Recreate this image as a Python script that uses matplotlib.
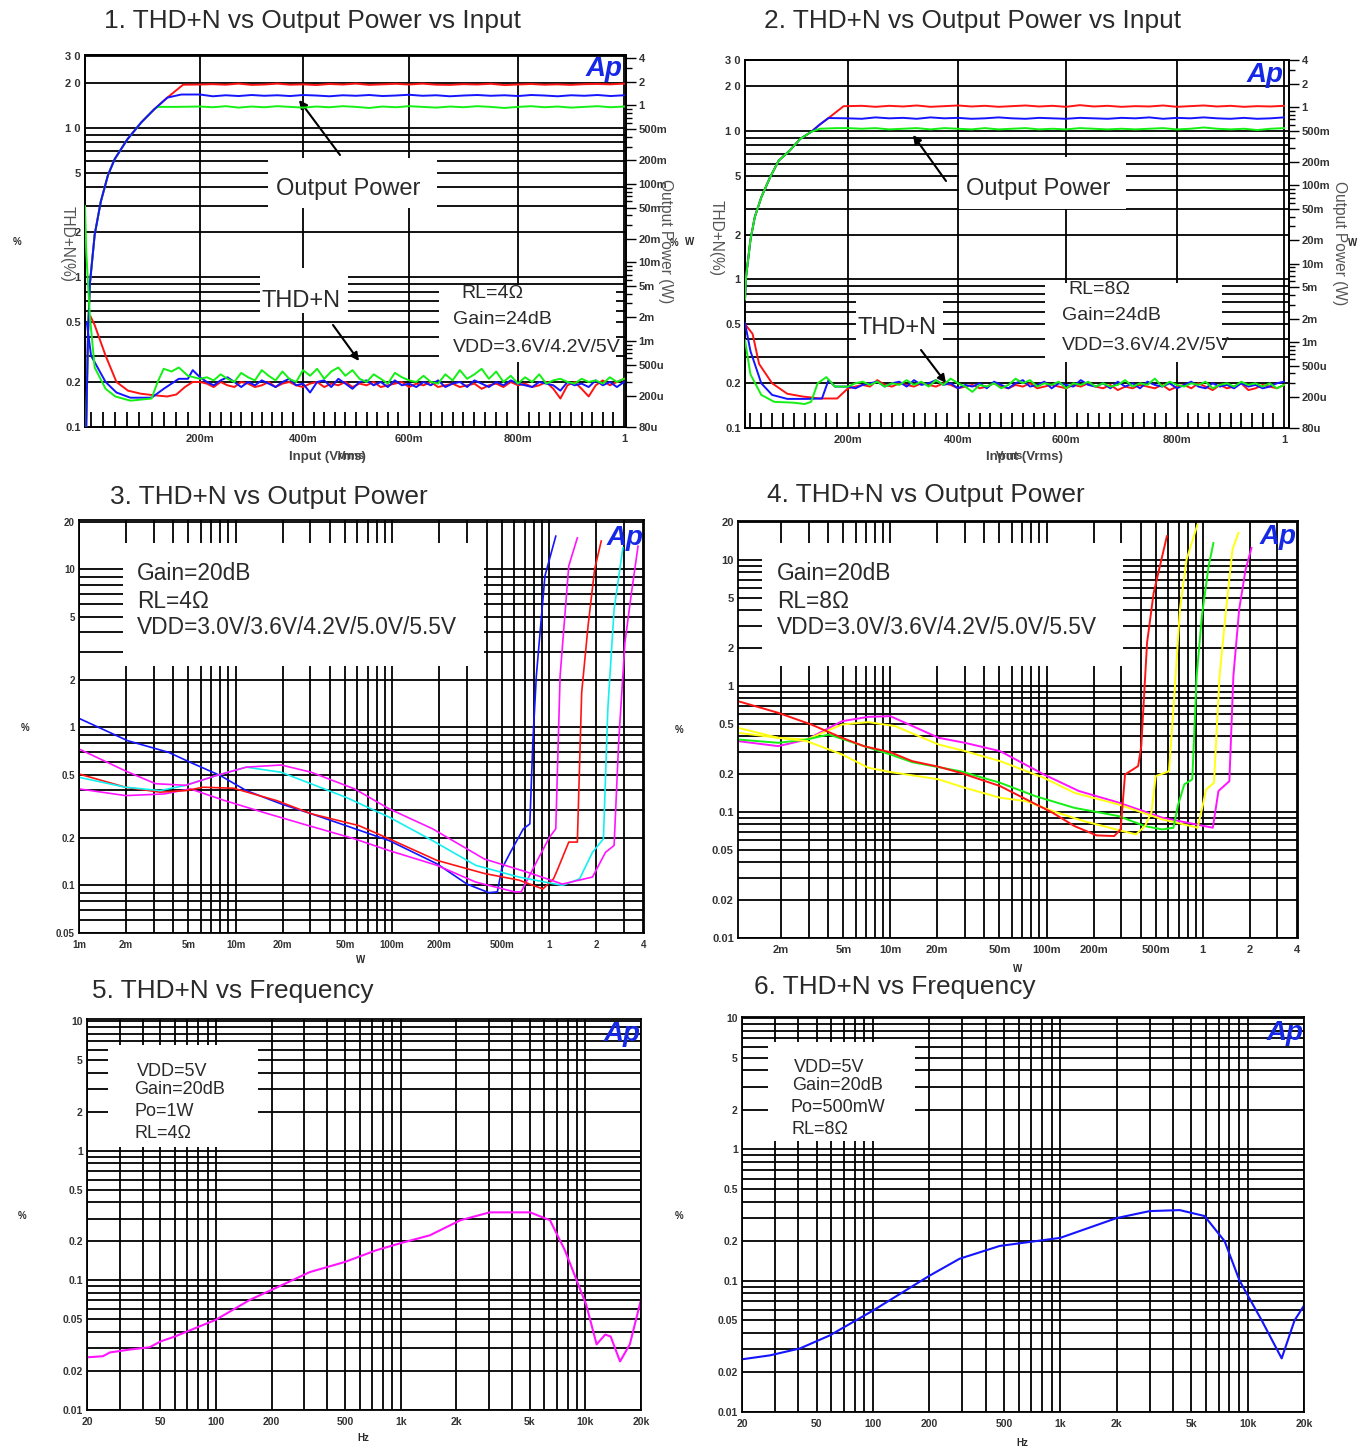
import numpy as np
import matplotlib
matplotlib.use('Agg')
import matplotlib.pyplot as plt
from matplotlib.patches import Rectangle

W_PX, H_PX = 1367, 1448
RED, BLUE, GREEN = '#ff1414', '#1414ff', '#14f014'
CYAN, MAGENTA, YELLOW = '#14f0f0', '#ff14ff', '#ffff14'
SANS = ['Liberation Sans', 'DejaVu Sans']
plt.rcParams['font.family'] = SANS

# ---------- panel 1 ----------
P1_RISE_V = [.012, .015, .018, .026, .036, .048, .059, .08, .103, .124]
P1_RISE_P = [8.1e-5, .00123, .00527, .0226, .0592, .13, .207, .371, .609, .889]
P1_RED_V, P1_RED_P = [.146, .172], [1.26, 1.84]
P1_BLUE_V, P1_BLUE_P = [.146, .169], [1.26, 1.38]
P1_GREEN_V, P1_GREEN_P = [.13, .16], [.96, .96]
P1_RED_PLAT = [1.85,1.87,1.84,1.9,1.83,1.85,1.9,1.84,1.86,1.82,1.88,1.85,1.9,1.83,1.86,1.89,1.85,1.9,1.84,1.83,1.87,1.85,1.89,1.82,1.85,1.88,1.84,1.86,1.83,1.87,1.88,1.86,1.9]
P1_BLUE_PLAT = [1.38,1.31,1.35,1.32,1.36,1.33,1.35,1.32,1.36,1.34,1.31,1.35,1.33,1.36,1.32,1.34,1.37,1.33,1.35,1.31,1.34,1.36,1.33,1.35,1.32,1.36,1.34,1.31,1.35,1.33,1.36,1.32,1.35]
P1_GREEN_PLAT = [.97,.95,.98,.94,.97,.95,.98,.96,.94,.97,.95,.98,.96,.93,.97,.95,.98,.96,.94,.97,.95,.98,.96,.93,.96,.98,.95,.97,.94,.96,.98,.95,.97]
T1_RED_V = [.019, .026, .044, .062, .081, .102, .124, .146, .161, .175, .188]
T1_RED = [.55, .48, .3, .2, .175, .167, .163, .16, .165, .185, .2]
T1_BLUE_V = [.013, .02, .044, .062, .085, .12, .14, .165, .18, .188]
T1_BLUE = [.5, .3, .2, .17, .157, .157, .18, .21, .21, .24]
T1_GREEN_V = [.01, .012, .018, .026, .044, .06, .085, .12, .13, .14, .153, .165, .18]
T1_GREEN = [3, 1.5, .55, .25, .18, .16, .15, .155, .2, .245, .235, .25, .22]
T1_RED_NOISE = [.2,.195,.185,.2,.19,.185,.2,.195,.185,.19,.2,.185,.195,.2,.19,.185,.195,.2,.185,.195,.19,.2,.185,.195,.19,.2,.185,.19,.195,.2,.185,.195,.19,.2,.185,.19,.195,.185,.19,.195,.18,.19,.195,.185,.2,.19,.195,.185,.19,.2,.18,.155,.19,.2,.18,.16,.19,.205,.19,.2,.21]
T1_BLUE_NOISE = [.215,.2,.19,.205,.215,.2,.185,.2,.19,.205,.195,.185,.2,.21,.19,.195,.17,.2,.205,.185,.21,.195,.18,.2,.205,.19,.2,.185,.205,.19,.195,.185,.2,.19,.205,.185,.195,.2,.185,.205,.195,.185,.2,.19,.205,.195,.19,.185,.2,.195,.19,.175,.2,.19,.195,.185,.205,.19,.2,.185,.2]
T1_GREEN_NOISE = [.21,.215,.205,.225,.21,.2,.23,.215,.205,.24,.22,.205,.235,.21,.2,.24,.22,.245,.21,.235,.25,.22,.24,.21,.2,.225,.21,.195,.23,.215,.205,.2,.22,.2,.195,.225,.205,.24,.21,.225,.245,.21,.235,.2,.22,.195,.215,.2,.225,.195,.205,.21,.2,.195,.21,.2,.205,.195,.215,.2,.21]

# ---------- panel 2 ----------
P2_RISE_V = [.01, .012, .02, .028, .04, .056, .072, .092, .112, .132]
P2_RISE_P = [.0035, .00684, .0201, .0394, .0705, .126, .207, .277, .394, .483]
P2_RED_V, P2_RED_P = [.148, .164, .192], [.6, .726, 1.03]
P2_BLUE_V, P2_BLUE_P = [.148, .164], [.6, .726]
P2_GREEN_V, P2_GREEN_P = [.148, .18], [.53, .54]
P2_RED_PLAT = [1.03,1.04,1.01,1.04,1.02,1.05,1.01,1.03,1.05,1.02,1.04,1.01,1.03,1.05,1.02,1.04,1.01,1.06,1.02,1.04,1.01,1.03,1.02,1.05,1.01,1.03,1.05,1.02,1.04,1.01,1.03,1.02,1.04]
P2_BLUE_PLAT = [.72,.71,.74,.72,.73,.71,.74,.72,.73,.71,.72,.74,.72,.71,.73,.72,.71,.73,.72,.71,.73,.72,.74,.71,.73,.72,.74,.72,.71,.73,.71,.72,.74]
P2_GREEN_PLAT = [.54,.53,.54,.52,.53,.54,.52,.54,.53,.52,.54,.52,.53,.54,.52,.53,.52,.54,.53,.52,.53,.52,.53,.54,.52,.53,.55,.53,.52,.53,.51,.53,.54]
T2_RED_V = [.012, .024, .036, .06, .088, .116, .148, .18]
T2_RED = [.49, .43, .27, .2, .17, .163, .158, .158]
T2_BLUE_V = [.01, .02, .04, .06, .088, .124, .152, .164, .176]
T2_BLUE = [.51, .33, .2, .167, .157, .157, .158, .21, .19]
T2_GREEN_V = [.01, .02, .04, .064, .1, .12, .132, .144, .16, .176]
T2_GREEN = [.39, .23, .167, .15, .148, .145, .15, .2, .22, .19]
T2_RED_NOISE = [.185,.19,.195,.19,.21,.195,.19,.2,.195,.19,.2,.195,.19,.2,.195,.185,.19,.195,.185,.19,.2,.19,.185,.195,.19,.2,.185,.19,.195,.19,.185,.195,.19,.2,.19,.185,.195,.18,.19,.185,.195,.19,.185,.195,.18,.19,.195,.185,.2,.19,.18,.195,.185,.19,.2,.18,.185,.195,.19,.185,.195]
T2_BLUE_NOISE = [.19,.185,.195,.2,.205,.19,.2,.205,.19,.21,.195,.2,.21,.195,.2,.185,.195,.19,.2,.185,.205,.195,.185,.2,.21,.19,.195,.205,.185,.2,.195,.19,.21,.195,.19,.2,.185,.205,.19,.2,.185,.205,.195,.19,.2,.185,.195,.205,.19,.185,.2,.19,.195,.185,.2,.19,.195,.185,.19,.2,.205]
T2_GREEN_NOISE = [.19,.2,.205,.195,.205,.19,.2,.195,.21,.195,.205,.19,.21,.195,.215,.2,.19,.175,.195,.19,.2,.185,.195,.215,.2,.21,.19,.2,.195,.205,.185,.2,.195,.205,.19,.2,.19,.195,.21,.19,.2,.195,.215,.19,.205,.195,.19,.2,.195,.205,.185,.195,.2,.19,.205,.195,.2,.19,.2,.185,.195]

# ---------- panel 3 ----------
S3_BLUE_X = [.001,.00204,.00373,.00513,.008,.0117,.0195,.0304,.0506,.0957,.193,.3,.413,.469,.5,.568,.687,.756,.79,.832,.944,1.107]
S3_BLUE_Y = [1.14,.824,.695,.601,.495,.398,.328,.284,.239,.192,.137,.102,.09,.091,.127,.162,.228,.245,.804,2.12,9.08,16.2]
S3_MAGB_X = [.001,.00198,.0035,.00513,.00853,.0161,.0268,.0575,.0957,.193,.341,.605,.665,.832,1.01,1.107,1.18,1.34,1.52]
S3_MAGB_Y = [.408,.37,.379,.408,.344,.284,.245,.197,.166,.134,.105,.091,.091,.14,.202,.228,2.12,10.5,15.8]
S3_RED_X = [.001,.00198,.00329,.00481,.0062,.00968,.0183,.0304,.0612,.0957,.193,.387,.645,.915,1.07,1.14,1.34,1.52,1.62,1.78,1.96,2.16]
S3_RED_Y = [.507,.418,.389,.398,.418,.412,.344,.284,.239,.197,.144,.119,.108,.095,.11,.127,.188,.188,1.66,4.39,10,15.1]
S3_CYAN_X = [.001,.00198,.00329,.00481,.00751,.0117,.0195,.0304,.0506,.0957,.181,.341,.645,1.22,1.57,1.9,2.23,2.38,2.61,2.97]
S3_CYAN_Y = [.483,.418,.398,.43,.495,.56,.52,.439,.361,.27,.192,.134,.113,.1,.11,.162,.197,1.31,5.59,13.7]
S3_MAGA_X = [.001,.00198,.00308,.00481,.00751,.0117,.0195,.0304,.0575,.0957,.181,.387,.733,1.22,1.9,2.3,2.61,2.79,3.06,3.37,3.71]
S3_MAGA_Y = [.73,.53,.44,.43,.495,.56,.578,.52,.408,.305,.228,.147,.121,.102,.113,.162,.179,.804,3.44,7.12,14]

# ---------- panel 4 ----------
S4_RED_X = [.00106,.00192,.00312,.00491,.00678,.01,.0138,.0204,.0281,.0504,.0743,.109,.151,.209,.271,.298,.318,.386,.404,.44,.485,.589]
S4_RED_Y = [.76,.614,.496,.389,.334,.299,.254,.229,.205,.161,.126,.099,.0774,.0653,.0645,.0728,.199,.232,.334,2.21,5.5,15.5]
S4_YELA_X = [.00106,.00192,.00292,.00491,.00724,.01,.0204,.03,.0504,.0743,.109,.172,.289,.374,.426,.469,.5,.608,.649,.714,.787,.925]
S4_YELA_Y = [.467,.389,.366,.287,.225,.208,.182,.156,.13,.122,.102,.085,.072,.0665,.0774,.099,.193,.211,.653,4.06,10.1,19.2]
S4_GRN_X = [.00106,.00192,.00292,.00404,.00678,.01,.0138,.0281,.0504,.0845,.151,.289,.426,.552,.649,.692,.762,.857,.914,.987,1.09,1.17]
S4_GRN_Y = [.377,.355,.377,.413,.334,.287,.249,.211,.171,.134,.108,.093,.0774,.0728,.0751,.112,.166,.182,1.2,3.6,8.96,13.7]
S4_YELB_X = [.00106,.00192,.00292,.00491,.00724,.0107,.0204,.03,.0504,.0962,.151,.289,.552,.84,.925,.987,1.05,1.18,1.28,1.41,1.55,1.69]
S4_YELB_Y = [.426,.389,.377,.496,.518,.482,.344,.305,.254,.187,.142,.115,.0875,.0774,.0751,.105,.151,.171,1.2,4.06,12.2,16.5]
S4_MAG_X = [.00106,.00192,.00292,.00491,.00724,.01,.0204,.03,.0504,.0962,.161,.289,.552,.84,1.16,1.26,1.48,1.57,1.71,1.88,2.05]
S4_MAG_Y = [.366,.334,.377,.527,.571,.578,.389,.355,.305,.199,.147,.119,.0902,.0813,.0751,.147,.176,1.2,4.06,8.43,12.5]

# ---------- panels 5, 6 ----------
F5 = [20,24.4,26.6,34.3,43.7,50,59.8,100,153,200,322,500,738,1000,1440,2100,3030,5020,6430,7740,10100,11500,12800,13700,15400,17400,20000]
T5 = [.0255,.026,.0278,.0293,.0305,.0338,.0369,.0498,.071,.0845,.116,.139,.171,.194,.223,.291,.335,.335,.291,.171,.0649,.0321,.0382,.0369,.0237,.0321,.071]
F6 = [20,28.2,40.8,58.8,100,200,290,475,1000,2000,3000,4340,5890,7540,9060,11900,15200,17800,20000]
T6 = [.0252,.027,.0305,.0383,.0592,.109,.147,.184,.212,.3,.339,.345,.311,.2,.1,.0498,.0256,.0498,.0647]

Y_LABELS = {30:'30',20:'20',10:'10',5:'5',2:'2',1:'1',.5:'0.5',.2:'0.2',.1:'0.1',.05:'0.05',.02:'0.02',.01:'0.01'}
Y_LABELS_SPACED = {**Y_LABELS, 30:'3 0', 20:'2 0', 10:'1 0'}
RIGHT_TICKS = [4,2,1,.5,.2,.1,.05,.02,.01,.005,.002,.001,.0005,.0002,.00008]
RIGHT_LABELS = ['4','2','1','500m','200m','100m','50m','20m','10m','5m','2m','1m','500u','200u','80u']
X_INPUT_TICKS = [.2,.4,.6,.8,1.0]
X_INPUT_LABELS = ['200m','400m','600m','800m','1']
X_W_TICKS3 = [.001,.002,.005,.01,.02,.05,.1,.2,.5,1,2,4]
X_W_LABELS3 = ['1m','2m','5m','10m','20m','50m','100m','200m','500m','1','2','4']
X_HZ_TICKS = [20,50,100,200,500,1000,2000,5000,10000,20000]
X_HZ_LABELS = ['20','50','100','200','500','1k','2k','5k','10k','20k']

fig = plt.figure(figsize=(W_PX/100, H_PX/100), dpi=100, facecolor='white')
GRID_LW = 1.3
TXT = '#2a2a2a'
LBL = '#333333'


def ftxt(x, y, s, size=7, ha='left', va='center', weight='normal', rot=0, color=TXT, z=5):
    return fig.text(x/W_PX, 1-y/H_PX, s, fontsize=size, ha=ha, va=va, fontweight=weight,
                    rotation=rot, color=color, zorder=z)


def make_axes(l, t, r, b):
    ax = fig.add_axes([l/W_PX, 1-b/H_PX, (r-l)/W_PX, (b-t)/H_PX])
    ax.set_axisbelow(True)
    for s in ax.spines.values():
        s.set_linewidth(GRID_LW)
        s.set_color('black')
        s.set_zorder(4)
    return ax


def mask(ax, x0, y0, x1, y1):
    ax.add_patch(Rectangle((x0/W_PX, 1-y1/H_PX), (x1-x0)/W_PX, (y1-y0)/H_PX, transform=fig.transFigure,
                           fc='white', ec='none', zorder=1))


def style_log_y(ax, ylim, labels, size, names=Y_LABELS):
    ax.set_yscale('log')
    ax.set_ylim(*ylim)
    ax.set_yticks(labels)
    ax.set_yticklabels([names[v] for v in labels])
    minors = [m*10.0**e for e in (-3, -2, -1, 0, 1) for m in range(1, 10)]
    minors = [v for v in minors if ylim[0] <= v <= min(ylim[1], 20.5) and v not in labels]
    ax.set_yticks(minors, minor=True)
    ax.yaxis.set_minor_formatter(matplotlib.ticker.NullFormatter())
    ax.tick_params(axis='y', which='both', length=0, pad=3, labelsize=size, labelcolor=LBL)
    ax.grid(True, axis='y', which='both', color='black', lw=GRID_LW)
    for t in ax.get_yticklabels():
        t.set_fontweight('bold')


def style_log_x(ax, xlim, ticks, labels, decades, size):
    ax.set_xscale('log')
    ax.set_xlim(*xlim)
    ax.set_xticks(ticks)
    ax.set_xticklabels(labels)
    minors = [m*10.0**e for e in decades for m in range(1, 10)]
    minors = [v for v in minors if xlim[0] <= v <= xlim[1] and v not in ticks]
    ax.set_xticks(minors, minor=True)
    ax.xaxis.set_minor_formatter(matplotlib.ticker.NullFormatter())
    ax.tick_params(axis='x', which='both', length=0, pad=5, labelsize=size, labelcolor=LBL)
    ax.grid(True, axis='x', which='both', color='black', lw=GRID_LW)
    for t in ax.get_xticklabels():
        t.set_fontweight('bold')


def input_panel(box, v_knots, px_knots, ylim, y2lim):
    ax = make_axes(*box)
    f = lambda v: np.interp(v, v_knots, px_knots)
    g = lambda p: np.interp(p, px_knots, v_knots)
    ax.set_xscale('function', functions=(f, g))
    ax.set_xlim(.01, 1.01)
    ax.set_xticks(X_INPUT_TICKS)
    ax.set_xticklabels(X_INPUT_LABELS)
    ax.set_xticks([round(.02*i, 2) for i in range(1, 50) if i % 10], minor=True)
    ax.tick_params(axis='x', which='major', direction='in', length=0, pad=5, labelsize=8, labelcolor=LBL)
    ax.tick_params(axis='x', which='minor', direction='in', length=11, width=GRID_LW)
    for t in ax.get_xticklabels():
        t.set_fontweight('bold')
    ax.grid(True, axis='x', which='major', color='black', lw=GRID_LW)
    style_log_y(ax, ylim, [30, 20, 10, 5, 2, 1, .5, .2, .1], 8, Y_LABELS_SPACED)
    ax2 = ax.twinx()
    ax2.set_yscale('log')
    ax2.set_ylim(*y2lim)
    ax2.set_yticks(RIGHT_TICKS)
    ax2.set_yticklabels(RIGHT_LABELS)
    rm = [m*10.0**e for e in (-4, -3, -2, -1, 0) for m in (3, 4, 6, 7, 8, 9)]
    ax2.set_yticks([v for v in rm if y2lim[0] < v < 4], minor=True)
    ax2.yaxis.set_minor_formatter(matplotlib.ticker.NullFormatter())
    ax2.tick_params(axis='y', which='major', direction='out', length=7, width=1, pad=2, labelsize=8, labelcolor=LBL)
    ax2.tick_params(axis='y', which='minor', direction='out', length=4, width=1)
    for t in ax2.get_yticklabels():
        t.set_fontweight('bold')
    for s in ax2.spines.values():
        s.set_linewidth(GRID_LW)
    return ax, ax2


def plateau(vals):
    return list(np.linspace(.2, 1.0, len(vals))), vals


def curve(ax, x, y, c, lw=1.4, transform=None):
    line, = ax.plot(x, y, color=c, lw=lw, solid_joinstyle='round', zorder=3)
    if transform is not None:
        line.set_transform(transform)


def rise_plus(rx, ry, px, py, plat):
    xs, ys = plateau(plat)
    return rx+px+xs, ry+py+ys


def arrow(ax, x0, y0, x1, y1):
    ax.annotate('', xy=(x1, H_PX-y1), xytext=(x0, H_PX-y0), xycoords='figure pixels', textcoords='figure pixels',
                arrowprops=dict(arrowstyle='-|>', color='black', lw=1.5, mutation_scale=12, shrinkA=0, shrinkB=0),
                zorder=6, annotation_clip=False)


# ---- Panel 1 ----
ax, ax2 = input_panel((85, 55, 626, 427), [.01, .2, .4, .6, .8, 1.0, 1.01], [85, 200, 303, 409, 518, 624, 626], (.1, 30.7), (8e-5, 4.4))
mask(ax, 268, 158, 437, 208); mask(ax, 260, 268, 348, 313); mask(ax, 439, 285, 616, 362)
curve(ax2, *rise_plus(P1_RISE_V, P1_RISE_P, P1_RED_V, P1_RED_P, P1_RED_PLAT), RED)
curve(ax2, *rise_plus(P1_RISE_V, P1_RISE_P, P1_GREEN_V, P1_GREEN_P, P1_GREEN_PLAT), GREEN)
curve(ax2, *rise_plus(P1_RISE_V, P1_RISE_P, P1_BLUE_V, P1_BLUE_P, P1_BLUE_PLAT), BLUE)
curve(ax2, *rise_plus(T1_RED_V, T1_RED, [], [], T1_RED_NOISE), RED, transform=ax.transData)
curve(ax2, *rise_plus(T1_BLUE_V, T1_BLUE, [], [], T1_BLUE_NOISE), BLUE, transform=ax.transData)
curve(ax2, *rise_plus(T1_GREEN_V, T1_GREEN, [], [], T1_GREEN_NOISE), GREEN, transform=ax.transData)
arrow(ax, 340, 155, 299, 100); arrow(ax, 333, 325, 359, 361)

# ---- Panel 2 ----
ax, ax2 = input_panel((745, 60, 1289, 428), [.01, .2, .4, .6, .8, 1.0, 1.01], [745, 848, 958, 1066, 1177, 1284, 1289], (.1, 30), (8e-5, 4.0))
mask(ax, 959, 157, 1126, 209); mask(ax, 856, 297, 943, 345); mask(ax, 1045, 283, 1222, 362)
curve(ax2, *rise_plus(P2_RISE_V, P2_RISE_P, P2_RED_V, P2_RED_P, P2_RED_PLAT), RED)
curve(ax2, *rise_plus(P2_RISE_V, P2_RISE_P, P2_BLUE_V, P2_BLUE_P, P2_BLUE_PLAT), BLUE)
curve(ax2, *rise_plus(P2_RISE_V, P2_RISE_P, P2_GREEN_V, P2_GREEN_P, P2_GREEN_PLAT), GREEN)
curve(ax2, *rise_plus(T2_RED_V, T2_RED, [], [], T2_RED_NOISE), RED, transform=ax.transData)
curve(ax2, *rise_plus(T2_BLUE_V, T2_BLUE, [], [], T2_BLUE_NOISE), BLUE, transform=ax.transData)
curve(ax2, *rise_plus(T2_GREEN_V, T2_GREEN, [], [], T2_GREEN_NOISE), GREEN, transform=ax.transData)
arrow(ax, 946, 181, 913, 135); arrow(ax, 921, 350, 946, 383)

# ---- Panel 3 ----
ax = make_axes(79, 520, 644, 933)
style_log_y(ax, (.05, 20.5), [20, 10, 5, 2, 1, .5, .2, .1, .05], 7)
style_log_x(ax, (.001, 4.05), X_W_TICKS3, X_W_LABELS3, (-3, -2, -1, 0), 7)
mask(ax, 123, 543, 484, 666)
for x, y, c in [(S3_BLUE_X, S3_BLUE_Y, BLUE), (S3_MAGB_X, S3_MAGB_Y, MAGENTA), (S3_RED_X, S3_RED_Y, RED),
                (S3_CYAN_X, S3_CYAN_Y, CYAN), (S3_MAGA_X, S3_MAGA_Y, MAGENTA)]:
    curve(ax, x, y, c, lw=1.2)

# ---- Panel 4 ----
ax = make_axes(738, 521, 1298, 938)
style_log_y(ax, (.01, 20.5), [20, 10, 5, 2, 1, .5, .2, .1, .05, .02, .01], 8)
style_log_x(ax, (.00106, 4.07), X_W_TICKS3[1:], X_W_LABELS3[1:], (-3, -2, -1, 0), 8)
mask(ax, 762, 543, 1123, 666)
for x, y, c in [(S4_MAG_X, S4_MAG_Y, MAGENTA), (S4_YELB_X, S4_YELB_Y, YELLOW), (S4_GRN_X, S4_GRN_Y, GREEN),
                (S4_YELA_X, S4_YELA_Y, YELLOW), (S4_RED_X, S4_RED_Y, RED)]:
    curve(ax, x, y, c, lw=1.4)

# ---- Panels 5, 6 ----
for box, ylim, mk, F, T, c in [((87, 1019, 641, 1410), (.01, 10.4), (108, 1045, 258, 1147), F5, T5, MAGENTA),
                               ((742, 1017, 1304, 1412), (.01, 10.2), (768, 1042, 915, 1141), F6, T6, BLUE)]:
    ax = make_axes(*box)
    style_log_y(ax, ylim, [10, 5, 2, 1, .5, .2, .1, .05, .02, .01], 7.5)
    style_log_x(ax, (20, 20000), X_HZ_TICKS, X_HZ_LABELS, (1, 2, 3, 4), 7.5)
    mask(ax, *mk)
    curve(ax, F, T, c, lw=1.5)

# ---- Titles ----
for x, y, s in [(104, 21, '1. THD+N vs Output Power vs Input'), (764, 21, '2. THD+N vs Output Power vs Input'),
                (110, 497, '3. THD+N vs Output Power'), (767, 495, '4. THD+N vs Output Power'),
                (92, 991, '5. THD+N vs Frequency'), (754, 987, '6. THD+N vs Frequency')]:
    ftxt(x, y, s, size=18.9)

# ---- Text inside plots ----
for x, y, s in [(276, 189, 'Output Power'), (966, 189, 'Output Power'), (261, 301, 'THD+N'), (858, 328, 'THD+N')]:
    ftxt(x, y, s, size=17)
for x, y, s in [(461, 293, 'RL=4Ω'), (453, 319, 'Gain=24dB'), (453, 347, 'VDD=3.6V/4.2V/5V'),
                (1068, 290, 'RL=8Ω'), (1062, 316, 'Gain=24dB'), (1062, 345, 'VDD=3.6V/4.2V/5V')]:
    ftxt(x, y, s, size=14)
for x, y, s in [(137, 573, 'Gain=20dB'), (137, 601, 'RL=4Ω'), (137, 628, 'VDD=3.0V/3.6V/4.2V/5.0V/5.5V'),
                (777, 573, 'Gain=20dB'), (777, 601, 'RL=8Ω'), (777, 628, 'VDD=3.0V/3.6V/4.2V/5.0V/5.5V')]:
    ftxt(x, y, s, size=16.4)
for x, y, s in [(137, 1072, 'VDD=5V'), (134, 1090, 'Gain=20dB'), (134, 1112, 'Po=1W'), (134, 1134, 'RL=4Ω'),
                (794, 1068, 'VDD=5V'), (792, 1086, 'Gain=20dB'), (791, 1108, 'Po=500mW'), (792, 1130, 'RL=8Ω')]:
    ftxt(x, y, s, size=13)
for x, y in [(604, 69), (1265, 75), (625, 538), (1278, 537), (622, 1034), (1285, 1033)]:
    ftxt(x, y, 'Ap', size=20, ha='center', weight='bold', color='#1428e6', z=7).set_fontstyle('italic')

# ---- Axis captions ----
for x, y, s in [(17, 242, '%'), (674, 243, '%'), (25, 728, '%'), (679, 730, '%'), (22, 1216, '%'), (679, 1216, '%'),
                (690, 242, 'W'), (1353, 243, 'W'), (361, 960, 'W'), (1018, 969, 'W'), (363, 1438, 'Hz'), (1022, 1443, 'Hz')]:
    ftxt(x, y, s, size=7, ha='center', weight='bold')
for x, y, s in [(67, 244, 'THD+N(%)'), (665, 241, 'Output Power (W)'), (716, 238, 'THD+N(%)'), (1340, 243, 'Output Power (W)')]:
    ftxt(x, y, s, size=11.2, ha='center', rot=270, color='#555555')
for x, y, s in [(327, 457, 'Input (Vrms)'), (1024, 457, 'Input (Vrms)')]:
    ftxt(x, y, s, size=9.5, ha='center', weight='bold', color='#444444')
ftxt(352, 456, 'Vrms', size=8, ha='center', weight='bold', color='#444444')
ftxt(1010, 456, 'Vrms', size=8, ha='center', weight='bold', color='#444444')

fig.savefig('out.png', dpi=100, facecolor='white')
